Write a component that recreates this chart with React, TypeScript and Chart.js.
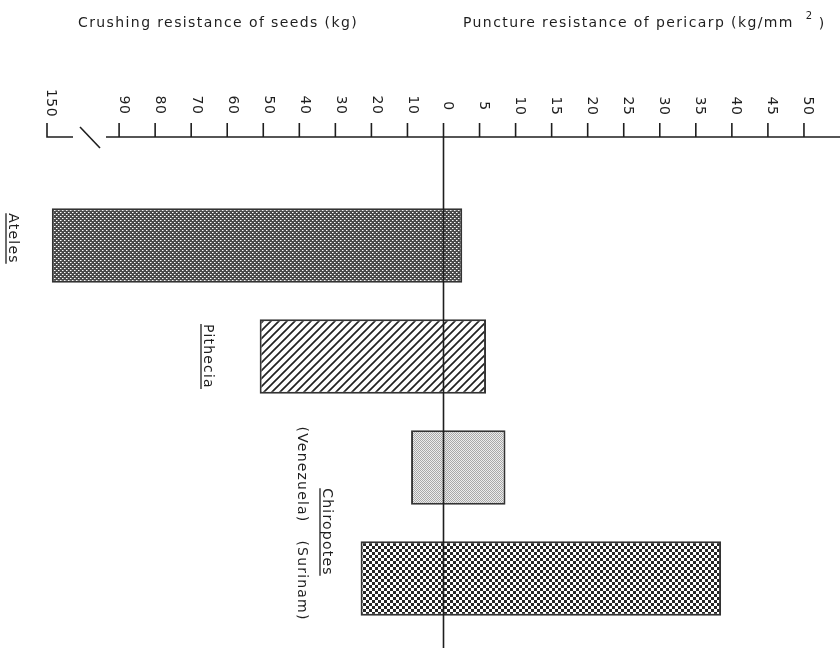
import React, { useEffect, useRef } from 'react';
import { Chart, registerables } from 'chart.js';

Chart.register(...registerables);

// ---- data ----
const categories = ['Ateles', 'Pithecia', 'Chiropotes (Venezuela)', 'Chiropotes (Surinam)'];
const crushingKg = [146, 51, 9, 23];          // left side (kg)
const punctureKgMm2 = [2.6, 5.9, 8.6, 38.5];  // right side (kg/mm²)
const crushingTicks = [90, 80, 70, 60, 50, 40, 30, 20, 10];
const crushingBreakTick = 150;
const punctureTicks = [0, 5, 10, 15, 20, 25, 30, 35, 40, 45, 50];
const genusLabels = ['Ateles', 'Pithecia', 'Chiropotes'];
const localityLabels = ['(Venezuela)', '(Surinam)'];
const leftTitle = 'Crushing resistance of seeds (kg)';
const rightTitle = 'Puncture resistance of pericarp (kg/mm';

// axis units: 1 unit = 1 kg on the left (with a break 90→150 compressed into 20 units),
// 1 unit = 0.5 kg/mm² on the right
const BREAK_AT = 90;
const BREAK_TOP = 150;
const BREAK_UNITS = 20;
function crushToAxis(kg: number) {
  return kg <= BREAK_AT ? -kg : -(BREAK_AT + ((kg - BREAK_AT) * BREAK_UNITS) / (BREAK_TOP - BREAK_AT));
}
function punctToAxis(v: number) {
  return v * 2;
}

const FONT = '14px "DejaVu Sans", sans-serif';
const INK = '#1e1e1e';

function makePattern(ctx: CanvasRenderingContext2D, w: number, h: number, draw: (g: CanvasRenderingContext2D) => void) {
  const c = document.createElement('canvas');
  c.width = w;
  c.height = h;
  const g = c.getContext('2d')!;
  draw(g);
  return ctx.createPattern(c, 'repeat')!;
}

function rotText(ctx: CanvasRenderingContext2D, text: string, x: number, y: number, underline: boolean) {
  ctx.save();
  ctx.translate(x, y);
  ctx.rotate(Math.PI / 2);
  ctx.textAlign = 'center';
  ctx.textBaseline = 'middle';
  ctx.fillText(text, 0, 0);
  if (underline) {
    const w = ctx.measureText(text).width;
    ctx.beginPath();
    ctx.lineWidth = 1.3;
    ctx.moveTo(-w / 2, 7);
    ctx.lineTo(w / 2, 7);
    ctx.stroke();
  }
  ctx.restore();
}

const decorPlugin = {
  id: 'decor',
  afterDatasetsDraw(chart: any) {
    const ctx: CanvasRenderingContext2D = chart.ctx;
    const xs = chart.scales.x;
    const ys = chart.scales.y;
    const axisY = 137;
    const tickTop = 123;
    ctx.save();
    ctx.strokeStyle = INK;
    ctx.fillStyle = INK;
    ctx.lineWidth = 1.6;
    (ctx as any).letterSpacing = '0px';

    // axis line
    const x150 = xs.getPixelForValue(crushToAxis(crushingBreakTick));
    ctx.beginPath();
    ctx.moveTo(x150 + 59, axisY);
    ctx.lineTo(chart.width, axisY);
    ctx.stroke();
    // 150 "L"
    ctx.beginPath();
    ctx.moveTo(x150, tickTop);
    ctx.lineTo(x150, axisY);
    ctx.lineTo(x150 + 26, axisY);
    ctx.stroke();
    // break slash
    ctx.beginPath();
    ctx.moveTo(x150 + 33, axisY - 10);
    ctx.lineTo(x150 + 53, axisY + 11);
    ctx.stroke();

    ctx.font = '14px "DejaVu Sans", sans-serif';
    (ctx as any).letterSpacing = '0.5px';
    const labelY = 105;
    rotText(ctx, String(crushingBreakTick), x150 + 4, labelY - 2, false);
    crushingTicks.forEach((t) => {
      const x = xs.getPixelForValue(crushToAxis(t));
      ctx.beginPath();
      ctx.moveTo(x, tickTop);
      ctx.lineTo(x, axisY);
      ctx.stroke();
      rotText(ctx, String(t), x + 5, labelY, false);
    });
    punctureTicks.forEach((t) => {
      const x = xs.getPixelForValue(punctToAxis(t));
      if (t !== 0) {
        ctx.beginPath();
        ctx.moveTo(x, tickTop);
        ctx.lineTo(x, axisY);
        ctx.stroke();
      }
      rotText(ctx, String(t), x + 4, labelY + 1, false);
    });

    // zero line
    const x0 = xs.getPixelForValue(0);
    ctx.beginPath();
    ctx.lineWidth = 1.6;
    ctx.moveTo(x0, tickTop);
    ctx.lineTo(x0, chart.height);
    ctx.stroke();

    // category labels
    ctx.font = FONT;
    (ctx as any).letterSpacing = '1.2px';
    const c0 = ys.getPixelForValue(0);
    const c1 = ys.getPixelForValue(1);
    const c2 = ys.getPixelForValue(2);
    const c3 = ys.getPixelForValue(3);
    rotText(ctx, genusLabels[0], 13, c0 - 7, true);
    rotText(ctx, genusLabels[1], 208, c1, true);
    rotText(ctx, genusLabels[2], 327, (c2 + c3) / 2 + 9, true);
    rotText(ctx, localityLabels[0], 302, c2 + 7, false);
    rotText(ctx, localityLabels[1], 302, c3 + 2, false);

    // titles
    (ctx as any).letterSpacing = '1.4px';
    ctx.textAlign = 'left';
    ctx.textBaseline = 'middle';
    ctx.fillText(leftTitle, 78, 23);
    ctx.fillText(rightTitle, 463, 23);
    const w = ctx.measureText(rightTitle).width;
    ctx.font = '10px "DejaVu Sans", sans-serif';
    (ctx as any).letterSpacing = '0px';
    ctx.fillText('2', 463 + w + 12, 16);
    ctx.font = FONT;
    ctx.fillText(')', 463 + w + 25, 24);
    ctx.restore();
  },
};

export default function App() {
  const ref = useRef<HTMLCanvasElement>(null);
  useEffect(() => {
    const canvas = ref.current!;
    const ctx = canvas.getContext('2d')!;
    const atelesFill = makePattern(ctx, 4, 4, (g) => {
      g.fillStyle = '#4a4a4a';
      g.fillRect(0, 0, 4, 4);
      g.fillStyle = '#ffffff';
      g.fillRect(0, 0, 1, 1);
      g.fillRect(2, 2, 1, 1);
      g.fillStyle = '#a5a5a5';
      g.fillRect(1, 0, 1, 1);
      g.fillRect(3, 2, 1, 1);
    });
    const pitheciaFill = makePattern(ctx, 8, 8, (g) => {
      g.fillStyle = '#ffffff';
      g.fillRect(0, 0, 8, 8);
      g.strokeStyle = '#222';
      g.lineWidth = 1.7;
      g.beginPath();
      g.moveTo(-1, 9);
      g.lineTo(9, -1);
      g.moveTo(-1, 1);
      g.lineTo(1, -1);
      g.moveTo(7, 9);
      g.lineTo(9, 7);
      g.stroke();
    });
    const venezuelaFill = makePattern(ctx, 2, 2, (g) => {
      g.fillStyle = '#ececec';
      g.fillRect(0, 0, 2, 2);
      g.fillStyle = '#a8a8a8';
      g.fillRect(0, 0, 1, 1);
      g.fillRect(1, 1, 1, 1);
    });
    const surinamFill = makePattern(ctx, 6, 6, (g) => {
      g.fillStyle = '#ffffff';
      g.fillRect(0, 0, 6, 6);
      g.fillStyle = '#262626';
      g.fillRect(0, 0, 3, 3);
      g.fillRect(3, 3, 3, 3);
    });

    const chart = new Chart(canvas, {
      type: 'bar',
      data: {
        labels: categories,
        datasets: [
          {
            data: crushingKg.map((c, i) => [crushToAxis(c), punctToAxis(punctureKgMm2[i])]) as any,
            backgroundColor: [atelesFill, pitheciaFill, venezuelaFill, surinamFill] as any,
            borderColor: '#333',
            borderWidth: 2,
            borderSkipped: false,
            categoryPercentage: 1,
            barPercentage: 0.67,
          },
        ],
      },
      options: {
        indexAxis: 'y',
        responsive: false,
        animation: false,
        layout: { padding: { left: 47, right: 0, top: 190, bottom: 14 } },
        scales: {
          x: { type: 'linear', min: -110, max: 110, display: false },
          y: { type: 'category', display: false },
        },
        plugins: {
          legend: { display: false },
          tooltip: { enabled: false },
          title: { display: false },
        },
      },
      plugins: [decorPlugin],
    });
    return () => chart.destroy();
  }, []);

  return (
    <canvas
      ref={ref}
      width={840}
      height={648}
      style={{ position: 'fixed', left: 0, top: 0, width: 840, height: 648, background: '#fff' }}
    />
  );
}
